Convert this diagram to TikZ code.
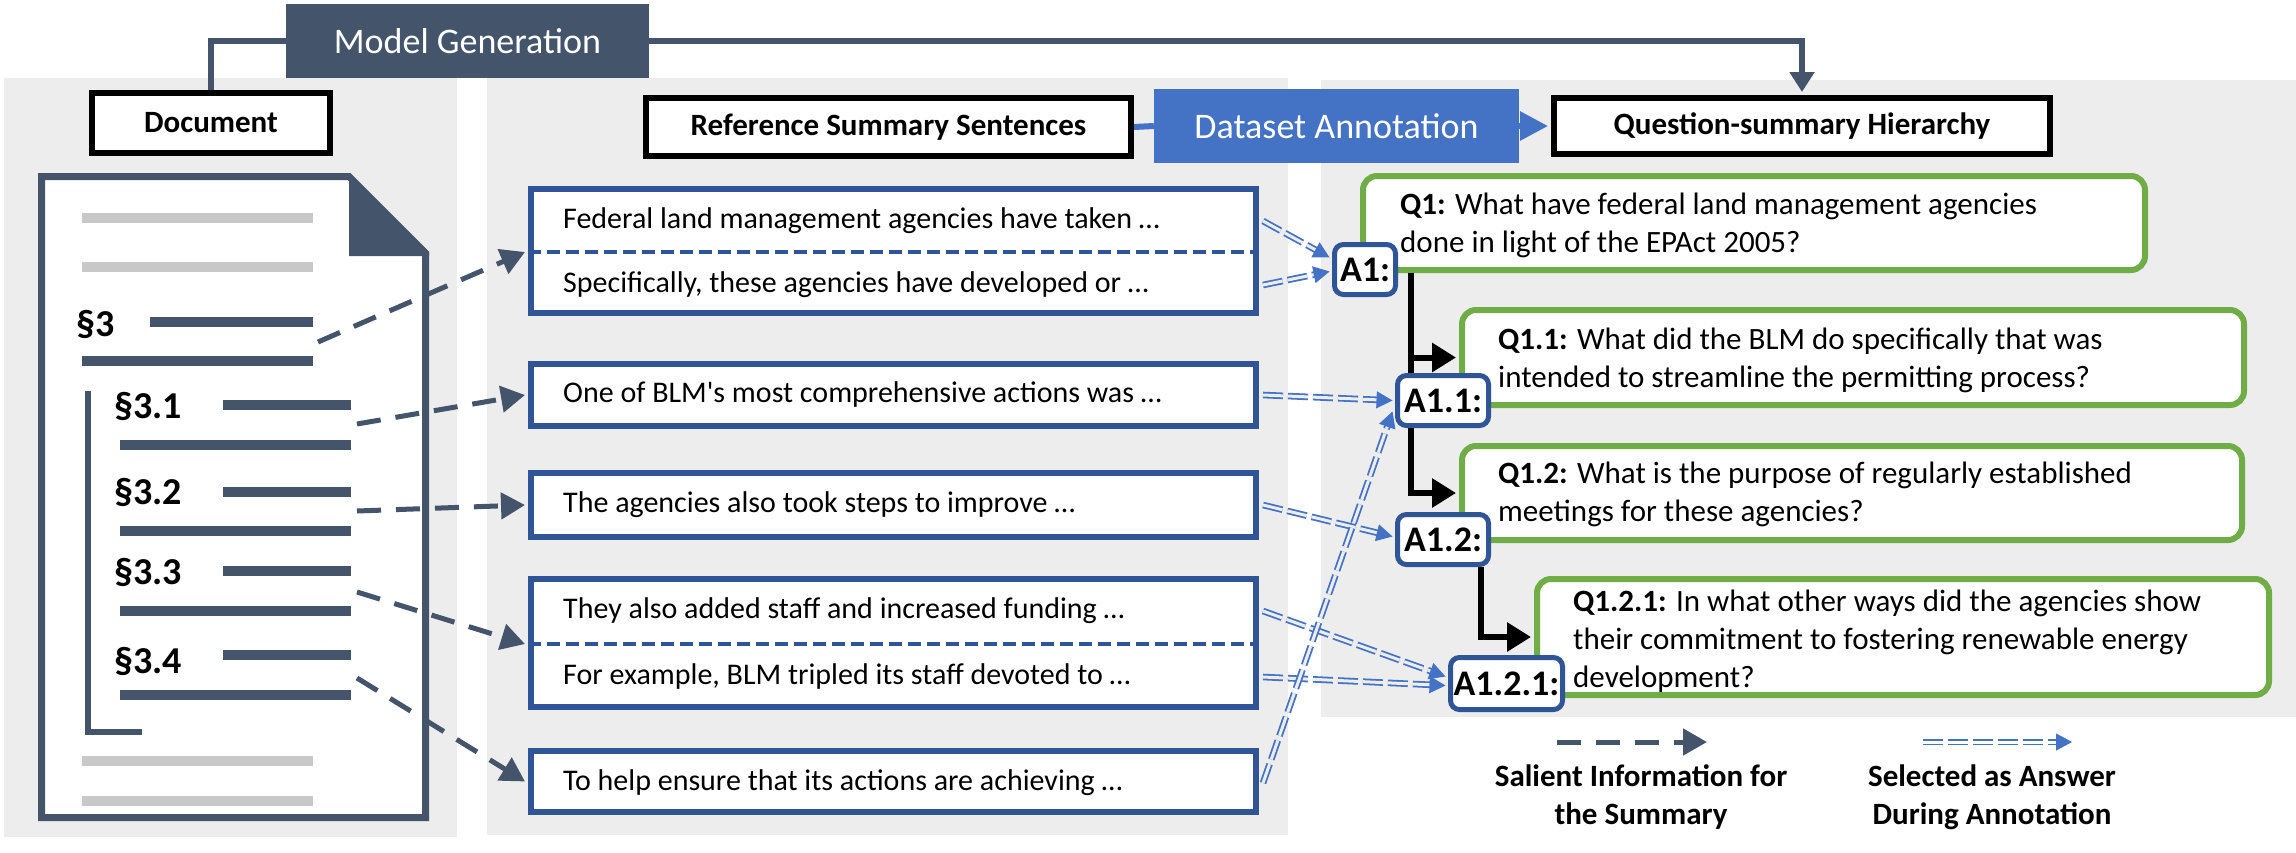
\documentclass[tikz,border=0pt]{standalone}
\usepackage{fontspec}
\setmainfont{Carlito}
\usetikzlibrary{arrows.meta,calc}
\definecolor{slate}{HTML}{44546A}
\definecolor{boxblue}{HTML}{2F5597}
\definecolor{annblue}{HTML}{4472C4}
\definecolor{qgreen}{HTML}{70AD47}
\definecolor{panelgray}{HTML}{EDEDED}
\definecolor{lightline}{HTML}{C8C8C8}
\newcommand\ansarrow[2]{\draw[ansline,shorten >=13pt] (#1) -- (#2); \draw[anstip] ($(#2)!16pt!(#1)$) -- (#2);}
\begin{document}
\begin{tikzpicture}[x=1pt,y=-1pt,
  every node/.style={inner sep=0pt, font=\fontsize{31}{38}\selectfont},
  hdr/.style={draw=black, line width=6pt, fill=white, font=\bfseries\fontsize{31}{38}\selectfont},
  bigbox/.style={minimum height=74pt, text=white, font=\fontsize{36}{40}\selectfont},
  sbox/.style={draw=boxblue, line width=6pt, fill=white, minimum width=725pt},
  divider/.style={draw=boxblue, line width=4pt, dash pattern=on 13pt off 6pt},
  qbox/.style={draw=qgreen, line width=6pt, fill=white, rounded corners=14pt},
  abox/.style={draw=boxblue, line width=5pt, fill=white, rounded corners=9pt, font=\bfseries\fontsize{36}{40}\selectfont},
  txt/.style={anchor=west, text height=21pt, text depth=7pt, font=\fontsize{30}{36}\selectfont},
  qtxt/.style={anchor=west, align=left},
  seclab/.style={anchor=west, font=\bfseries\fontsize{38}{40}\selectfont},
  salient/.style={draw=slate, line width=5pt, dash pattern=on 24pt off 15pt, -{Triangle[length=24pt,width=26pt]}},
  ansline/.style={draw=annblue, line width=1.8pt, double=panelgray, double distance=3pt, dash pattern=on 20pt off 5pt},
  anstip/.style={draw=annblue, line width=1pt, -{Triangle[length=16pt,width=17pt]}},
  treeline/.style={draw=black, line width=6pt, shorten >=3pt, -{Triangle[length=24pt,width=28pt]}},
  slateline/.style={draw=slate, line width=6pt},
  darkbar/.style={draw=slate, line width=10pt},
  graybar/.style={draw=lightline, line width=10pt}]
\useasboundingbox (0,0) rectangle (2296,852);
% panels
\fill[panelgray] (4,78) rectangle (457,837);
\fill[panelgray] (487,78) rectangle (1288,835);
\fill[panelgray] (1321,80) rectangle (2296,717);

% top boxes
\node[bigbox, fill=slate, minimum width=363pt] (mg) at (467.5,41) {Model Generation};
\node[hdr, minimum width=238pt, minimum height=60pt] (doc) at (211,123) {Document};
\node[hdr, minimum width=485pt, minimum height=58pt] (ref) at (888.5,127) {Reference Summary Sentences};
\node[bigbox, fill=annblue, minimum width=365pt] (ds) at (1336.5,126) {Dataset Annotation};
\node[hdr, minimum width=496pt, minimum height=56pt] (qsh) at (1802,126) {Question-summary Hierarchy};
\draw[slateline] (mg.west) -| (doc.north);
\draw[slateline, shorten >=3pt, -{Triangle[length=20pt,width=24pt]}] (mg.east) -| (qsh.north);
\draw[annblue, line width=6pt] (ref.east) -- (ds.west);
\draw[annblue, line width=6pt, shorten >=3pt, -{Triangle[length=28pt,width=28pt]}] (ds.east) -- (qsh.west);

% document page
\fill[white] (41.5,176.5) -- (349,176.5) -- (425.5,253) -- (425.5,817.5) -- (41.5,817.5) -- cycle;
\draw[slate, line width=7pt] (349,176.5) -- (41.5,176.5) -- (41.5,817.5) -- (425.5,817.5) -- (425.5,253) -- cycle;
\fill[slate] (349,173) -- (429,252) -- (429,256) -- (349,256) -- cycle;
\draw[graybar] (82,218) -- (313,218);
\draw[graybar] (82,267) -- (313,267);
\draw[darkbar] (150,322) -- (313,322);
\draw[darkbar] (82,361) -- (313,361);
\draw[darkbar] (223,405) -- (351,405);
\draw[darkbar] (120,445) -- (351,445);
\draw[darkbar] (223,492) -- (351,492);
\draw[darkbar] (120,531) -- (351,531);
\draw[darkbar] (223,571) -- (351,571);
\draw[darkbar] (120,611) -- (351,611);
\draw[darkbar] (223,655) -- (351,655);
\draw[darkbar] (120,695) -- (351,695);
\draw[graybar] (82,761) -- (313,761);
\draw[graybar] (82,801) -- (313,801);
\draw[slate, line width=6pt] (88,391) -- (88,732) -- (142,732);
\node[seclab] (l3) at (76,324) {§3};
\node[seclab] (l31) at (114,406) {§3.1};
\node[seclab] (l32) at (114,492) {§3.2};
\node[seclab] (l33) at (114,572) {§3.3};
\node[seclab] (l34) at (114,661) {§3.4};

% summary sentence boxes
\node[sbox, minimum height=124pt] (box1) at (893.5,251) {};
\node[sbox, minimum height=62pt] (box2) at (893.5,395) {};
\node[sbox, minimum height=64pt] (box3) at (893.5,505) {};
\node[sbox, minimum height=128pt] (box4) at (893.5,643) {};
\node[sbox, minimum height=61pt] (box5) at (893.5,781.5) {};
\draw[divider] ($(box1.west)+(0,1)$) -- ($(box1.east)+(0,1)$);
\draw[divider] ($(box4.west)+(0,1)$) -- ($(box4.east)+(0,1)$);
\node[txt] (t1a) at (563,221) {Federal land management agencies have taken …};
\node[txt] (t1b) at (563,285) {Specifically, these agencies have developed or …};
\node[txt] (t2) at (563,395) {One of BLM\textquotesingle s most comprehensive actions was …};
\node[txt] (t3) at (563,505) {The agencies also took steps to improve …};
\node[txt] (t4a) at (563,611) {They also added staff and increased funding …};
\node[txt] (t4b) at (563,677) {For example, BLM tripled its staff devoted to …};
\node[txt] (t5) at (563,783) {To help ensure that its actions are achieving …};

% salient arrows
\coordinate (s3) at (318,342);
\coordinate (s31) at (357,424);
\coordinate (s32) at (357,511);
\coordinate (s33) at (357,592);
\coordinate (s34) at (357,678);
\draw[salient] (s3) -- ($(box1.west)+(-3,1)$);
\draw[salient] (s31) -- ($(box2.west)+(-3,0)$);
\draw[salient] (s32) -- ($(box3.west)+(-3,0)$);
\draw[salient] (s33) -- ($(box4.west)+(-3,1)$);
\draw[salient] (s34) -- ($(box5.west)+(-3,0)$);

% question boxes
\node[qbox, minimum width=782pt, minimum height=94pt] (q1) at (1754,223) {};
\node[qbox, minimum width=782pt, minimum height=95pt] (q11) at (1853,357.5) {};
\node[qbox, minimum width=780pt, minimum height=94pt] (q12) at (1852,493) {};
\node[qbox, minimum width=732pt, minimum height=116pt] (q121) at (1903,637) {};
\node[qtxt] (tq1) at (1400,225) {\textbf{Q1:} What have federal land management agencies\\done in light of the EPAct 2005?};
\node[qtxt] (tq11) at (1498,360) {\textbf{Q1.1:} What did the BLM do specifically that was\\intended to streamline the permitting process?};
\node[qtxt] (tq12) at (1498,494) {\textbf{Q1.2:} What is the purpose of regularly established\\meetings for these agencies?};
\node[qtxt] (tq121) at (1573,641) {\textbf{Q1.2.1:} In what other ways did the agencies show\\their commitment to fostering renewable energy\\development?};

% hierarchy connectors
\coordinate (tr1) at (1411,273);
\coordinate (tr2) at (1481,567);
\draw[treeline] (tr1) |- (q12.west);
\draw[treeline] (tr1 |- q11.west) -- (q11.west);
\draw[treeline] (tr2) |- (q121.west);

% answer nodes
\node[abox, minimum width=61pt, minimum height=50pt] (a1) at (1365,269.5) {A1:};
\node[abox, minimum width=91pt, minimum height=50pt] (a11) at (1443,400.5) {A1.1:};
\node[abox, minimum width=91pt, minimum height=50pt] (a12) at (1443,539.5) {A1.2:};
\node[abox, minimum width=112pt, minimum height=52pt] (a121) at (1506.5,683.5) {A1.2.1:};

% answer arrows
\coordinate (as1) at ($(box1.east|-t1a)+(4,0)$);
\coordinate (as2) at ($(box1.east|-t1b)+(4,0)$);
\coordinate (as3) at ($(box2.east|-t2)+(4,0)$);
\coordinate (as4) at ($(box3.east|-t3)+(4,0)$);
\coordinate (as5) at ($(box4.east|-t4a)+(4,0)$);
\coordinate (as6) at ($(box4.east|-t4b)+(4,0)$);
\coordinate (as7) at ($(box5.east|-t5)+(4,0)$);
\coordinate (at1) at ($(a1.west)+(-2.5,-12)$);
\coordinate (at2) at ($(a1.west)+(-2.5,2)$);
\coordinate (at3) at ($(a11.west)+(-2.5,0)$);
\coordinate (at4) at ($(a12.west)+(-2.5,-3)$);
\coordinate (at5) at ($(a121.west)+(-2.5,-7)$);
\coordinate (at6) at ($(a121.west)+(-2.5,2)$);
\coordinate (at7) at ($(a11.west)+(-2.5,11)$);
\ansarrow{as1}{at1}
\ansarrow{as2}{at2}
\ansarrow{as3}{at3}
\ansarrow{as4}{at4}
\ansarrow{as5}{at5}
\ansarrow{as6}{at6}
\ansarrow{as7}{at7}

% legend
\coordinate (lg1a) at (1557,742);
\coordinate (lg1b) at (1707,742);
\coordinate (lg2a) at (1923,742);
\coordinate (lg2b) at (2072,742);
\draw[salient] (lg1a) -- (lg1b);
\draw[ansline, double=white, shorten >=13pt] (lg2a) -- (lg2b);
\draw[anstip] ($(lg2b)!16pt!(lg2a)$) -- (lg2b);
\node[align=center, font=\bfseries\fontsize{31}{38}\selectfont] (lgt1) at (1641,797) {Salient Information for\\the Summary};
\node[align=center, font=\bfseries\fontsize{31}{38}\selectfont] (lgt2) at (1992,797) {Selected as Answer\\During Annotation};
\end{tikzpicture}
\end{document}
